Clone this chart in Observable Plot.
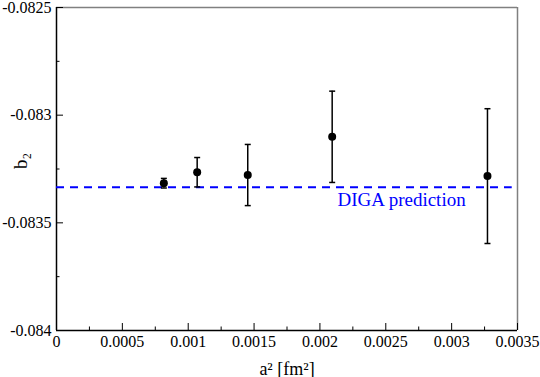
<!DOCTYPE html>
<html>
<head>
<meta charset="utf-8">
<script src="https://cdn.jsdelivr.net/npm/d3@7"></script>
<script src="https://cdn.jsdelivr.net/npm/@observablehq/plot@0.6"></script>
<style>
  html, body { margin: 0; padding: 0; background: white; }
</style>
</head>
<body>
<div id="chart"></div>
<script>
// ---- data ----
const a2 = [0.000815, 0.001068, 0.001452, 0.002093, 0.003272];
const b2 = [-0.083316, -0.083265, -0.083278, -0.0831005, -0.083283];
const b2err = [0.0000223, 0.0000683, 0.000142, 0.000212, 0.000313];
const digaPrediction = -0.083335;
const digaExtent = [0, 0.00346];
const digaLabel = "DIGA prediction";
const digaLabelX = 0.002133;

const xDomain = [0, 0.0035];
const yDomain = [-0.084, -0.0825];
const xMajor = [0, 0.0005, 0.001, 0.0015, 0.002, 0.0025, 0.003, 0.0035];
const xMinor = [0.00025, 0.00075, 0.00125, 0.00175, 0.00225, 0.00275, 0.00325];
const yMajor = [-0.084, -0.0835, -0.083, -0.0825];
const yMinor = [-0.08375, -0.08325, -0.08275];
const xLabel = "a\u00B2 [fm\u00B2]";
const yLabel = "b\u2082";

const points = a2.map((x, i) => ({x, y: b2[i], e: b2err[i]}));

const W = 540, H = 377;
const mL = 56, mR = 23, mT = 7, mB = 47;
const pw = W - mL - mR, ph = H - mT - mB;
const serif = "Liberation Serif";

const capSymbol = {
  draw(ctx, size) {
    const r = Math.sqrt(size / Math.PI);
    ctx.moveTo(-r, 0);
    ctx.lineTo(r, 0);
  }
};

const chart = Plot.plot({
  width: W,
  height: H,
  marginLeft: mL,
  marginRight: mR,
  marginTop: mT,
  marginBottom: mB,
  x: {domain: xDomain},
  y: {domain: yDomain},
  marks: [
    // frame
    Plot.ruleY([yDomain[1]], {stroke: "#808080", strokeWidth: 1.5}),
    Plot.ruleX([xDomain[1]], {stroke: "#808080", strokeWidth: 1.5}),
    Plot.ruleY([yDomain[0]], {stroke: "black", strokeWidth: 1.5}),
    Plot.ruleX([xDomain[0]], {stroke: "black", strokeWidth: 1.5}),
    // inward ticks
    Plot.ruleX(xMajor, {x: d => d, insetTop: ph - 7, stroke: "black", strokeWidth: 1}),
    Plot.ruleX(xMinor, {x: d => d, insetTop: ph - 3.5, stroke: "black", strokeWidth: 1}),
    Plot.ruleY(yMajor, {y: d => d, insetRight: pw - 7, stroke: "black", strokeWidth: 1}),
    Plot.ruleY(yMinor, {y: d => d, insetRight: pw - 3.5, stroke: "black", strokeWidth: 1}),
    // tick labels
    Plot.axisX({ticks: xMajor, tickSize: 0, tickPadding: 5, tickFormat: d => String(d), label: null, fontSize: 16, fontFamily: serif}),
    Plot.axisY({ticks: yMajor, tickSize: 0, tickPadding: 5, tickFormat: d => String(d), label: null, fontSize: 16, fontFamily: serif}),
    // axis titles
    Plot.text([xLabel], {frameAnchor: "bottom", dy: 44, fontSize: 18, lineAnchor: "bottom", text: d => d, fontFamily: serif}),
    Plot.text([yLabel], {frameAnchor: "left", dx: -36, rotate: -90, fontSize: 19, text: d => d, fontFamily: serif}),
    // DIGA prediction
    Plot.ruleY([digaPrediction], {x1: digaExtent[0], x2: digaExtent[1], stroke: "#0000ff", strokeWidth: 2, strokeDasharray: "8,6"}),
    Plot.text([digaLabel], {x: digaLabelX, y: digaPrediction, text: d => d, textAnchor: "start", lineAnchor: "top", dy: 5, fill: "#0000ff", fontSize: 19, fontFamily: serif}),
    // error bars
    Plot.ruleX(points, {x: "x", y1: d => d.y - d.e, y2: d => d.y + d.e, stroke: "black", strokeWidth: 1.5}),
    Plot.dot(points, {x: "x", y: d => d.y + d.e, symbol: capSymbol, r: 3, stroke: "black", strokeWidth: 1.5, fill: "none"}),
    Plot.dot(points, {x: "x", y: d => d.y - d.e, symbol: capSymbol, r: 3, stroke: "black", strokeWidth: 1.5, fill: "none"}),
    // points
    Plot.dot(points, {x: "x", y: "y", r: 4, fill: "black", stroke: "none"})
  ]
});
// strip Plot's embedded stylesheet and use plain presentation attributes only
const embedded = chart.querySelector("style");
if (embedded) embedded.remove();
chart.removeAttribute("style");
chart.setAttribute("font-family", serif);
chart.setAttribute("font-size", "16");
chart.setAttribute("fill", "black");
chart.style.background = "white";
chart.querySelectorAll("[font-variant]").forEach(el => el.removeAttribute("font-variant"));
chart.querySelectorAll("g[font-family]").forEach(el => el.setAttribute("font-family", serif));
document.getElementById("chart").appendChild(chart);
</script>
</body>
</html>
